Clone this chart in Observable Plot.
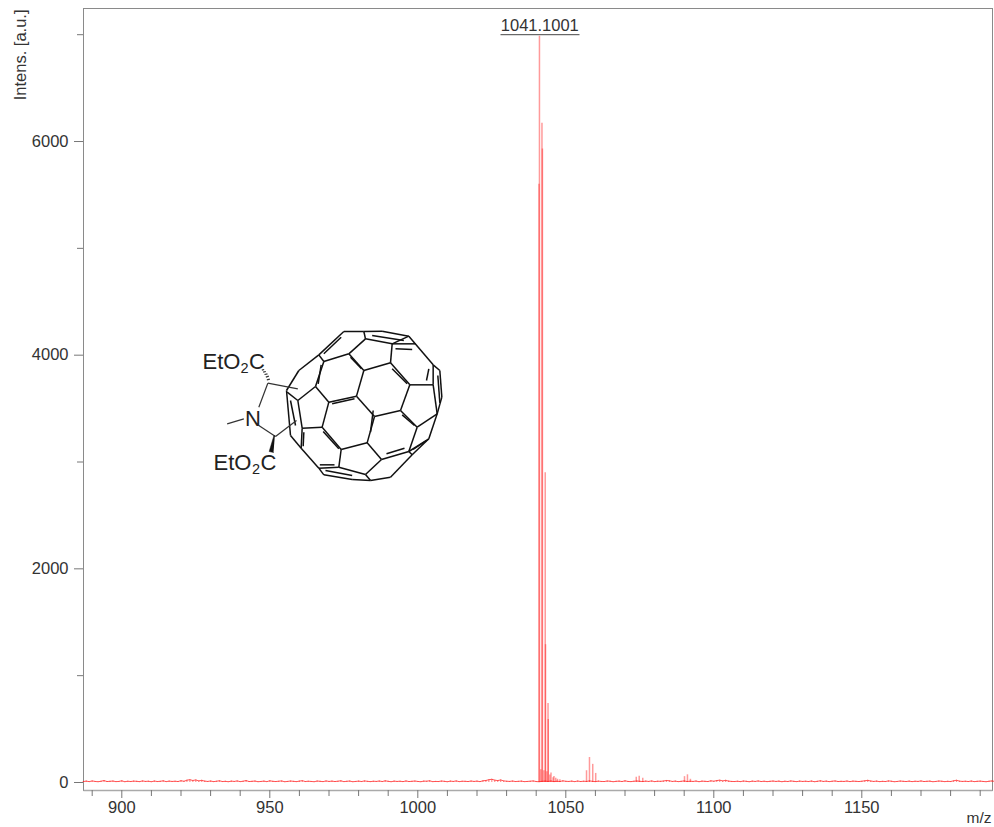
<!DOCTYPE html>
<html><head><meta charset="utf-8">
<style>html,body{margin:0;padding:0;background:#fff}svg{display:block}</style>
<script src="https://cdn.jsdelivr.net/npm/d3@7"></script>
<script src="https://cdn.jsdelivr.net/npm/@observablehq/plot@0.6"></script>
</head><body><div id="chart"></div>
<script>
// Spectrum peaks
const peakMz = [1040.95,1041.1,1041.55,1041.95,1042.1,1042.6,1043.05,1043.15,1043.6,1044.0,1044.08,1044.6,1045.0,1045.7,1046.0,1046.6,1047.2,1048.0,
  1057.0,1058.0,1059.1,1060.1,1073.8,1074.8,1076.0,1090.1,1091.1,1092.1];
const peakI = [5600,6985,120,6170,5930,110,2900,1290,100,740,590,70,90,45,55,40,30,25,
  110,234,170,85,50,58,40,55,72,30];
// Baseline noise, one reading per m/z starting at 887
const noiseStart = 887;
const noise = [9,13,8,15,10,7,12,18,9,11,14,8,10,16,7,12,9,13,11,8,
 15,10,12,7,14,9,11,16,8,13,10,12,9,17,11,22,26,19,24,15,
 20,13,10,14,8,12,16,9,11,7,13,10,15,8,12,18,9,11,14,7,
 10,13,8,16,11,9,12,15,7,10,14,11,8,13,17,9,12,10,7,14,
 11,8,15,10,13,9,12,16,8,11,14,7,10,13,9,15,11,8,12,10,
 14,9,16,11,7,13,10,12,8,15,9,11,14,10,7,13,12,16,8,10,
 9,14,11,7,13,10,15,8,12,11,9,14,10,13,8,16,19,26,30,22,
 18,24,15,12,10,14,9,11,13,8,10,12,15,9,7,11,13,10,14,8,
 12,9,16,11,10,13,8,14,9,12,10,15,11,8,13,10,9,14,12,7,
 11,13,9,16,10,8,12,14,11,9,13,10,15,8,12,11,14,19,16,10,
 13,8,11,15,9,12,10,14,7,13,11,9,16,12,18,22,15,20,13,10,
 9,12,8,14,11,7,13,10,15,9,12,8,11,14,10,13,7,12,9,15,
 11,8,13,10,12,9,14,7,11,16,10,13,8,12,15,9,11,10,14,8,
 13,11,9,12,16,20,14,10,13,8,11,9,15,12,7,10,14,11,9,13,
 8,12,10,15,9,11,13,7,10,14,12,8,11,9,16,21,13,10,12,9,
 14,8,11,13,10,7,12,15,9,11,8,13,10,14,9,12,8,11,13,10];
const noiseRows = noise.map((v,i)=>({mz:noiseStart+i,v}));
const peakRows = peakMz.map((mz,i)=>({mz,v:peakI[i]}));

const majorX = [900,950,1000,1050,1100,1150];
const minorX = [890,910,920,930,940,960,970,980,990,1010,1020,1030,1040,1060,1070,1080,1090,1110,1120,1130,1140,1160,1170,1180,1190];
const majorY = [0,2000,4000,6000];
const minorY = [1000,3000,5000,7000];
const peakLabel = "1041.1001";
const yTitle = "Intens. [a.u.]";
const xTitle = "m/z";

// Inset structure: picture positions converted to the chart's own units
const mzAt = p => 900+(p-121.3)/2.96;
const iAt = p => (782-p)/0.10683;
const cageX = 280, cageY = 325, ringX = 190, ringY = 320;
const cage = [ // C60 cage bonds
 [190,18,250,18],[250,18,305,17],[305,17,385,32],[385,32,458,118],[458,118,478,135],[478,135,484,215],[484,215,470,265],
 [470,265,445,340],[445,340,395,388],[395,388,330,455],[330,455,270,465],[270,465,215,462],[215,462,130,448],[130,448,115,428],
 [115,428,62,368],[62,368,30,330],[30,330,18,195],[18,195,55,135],[55,135,115,88],[115,88,190,18],
 [250,18,255,40],[255,40,205,85],[205,85,130,108],[130,108,115,88],[255,40,335,55],[335,55,385,32],[335,55,405,55],
 [335,55,330,112],[330,112,250,135],[250,135,205,85],[330,112,388,178],[388,178,458,178],[458,118,458,178],[458,178,470,265],
 [388,178,360,255],[360,255,282,273],[282,273,228,212],[228,212,250,135],[228,212,145,230],[145,230,105,183],[105,183,130,108],
 [105,183,52,225],[52,225,20,200],[52,225,65,308],[65,308,125,305],[125,305,145,230],[125,305,182,372],[182,372,260,352],
 [260,352,282,273],[260,352,303,402],[303,402,385,378],[385,378,410,305],[410,305,360,255],[410,305,470,265],[385,378,445,340],
 [385,378,395,388],[182,372,175,425],[175,425,115,428],[65,308,62,368],[175,425,255,447],[255,447,303,402],[255,447,270,465]
];
const cageDouble = [ // inner strokes of double bonds
 [130,85,182,35],[275,30,370,45],[345,70,395,72],[445,130,438,165],[472,150,478,232],[210,95,243,130],[335,130,380,175],
 [122,118,113,175],[155,235,222,220],[278,255,270,320],[365,268,402,300],[318,385,372,368],[398,372,438,345],[128,318,175,370],
 [70,320,68,362],[118,418,162,418],[135,435,215,450],[30,225,45,300]
];
const ring = [ // pyrrolidine bonds
 [232,188,322,205],[232,188,205,260],[110,310,160,295],[205,315,255,348],[255,348,318,300]
];
const hash = [[229,178,238,176],[226,170,235,167],[222,162,231,160],[218,155,226,153],[214,149,221,147]];
const wedge = [[253,346],[250,346],[236,393],[249,396]];
const toBond = (r,ox,oy)=>({x1:mzAt(ox+r[0]/3),y1:iAt(oy+r[1]/3),x2:mzAt(ox+r[2]/3),y2:iAt(oy+r[3]/3)});
const bonds = [...cage.map(r=>toBond(r,cageX,cageY)),...cageDouble.map(r=>toBond(r,cageX,cageY))];
const ringBonds = [...ring,...hash].map(r=>toBond(r,ringX,ringY));
const wedgePts = wedge.map(p=>({x:mzAt(ringX+p[0]/3),y:iAt(ringY+p[1]/3)}));
const chemText = [
 {t:"EtO",px:202,py:361.5,s:22},{t:"2",px:240,py:368,s:14.5},{t:"C",px:248.5,py:361.5,s:22},
 {t:"EtO",px:213,py:462.5,s:22},{t:"2",px:251.5,py:469,s:14.5},{t:"C",px:260,py:462.5,s:22},
 {t:"N",px:244.5,py:418,s:22}
].map(d=>({...d,x:mzAt(d.px),y:iAt(d.py)}));

const txt="#333", axisCol="#777";
const chart = Plot.plot({
  width:994,height:827,marginLeft:83,marginRight:2,marginTop:8,marginBottom:37,
  style:{fontFamily:"'Liberation Sans',Arial,sans-serif",background:"#fff",color:txt},
  x:{domain:[mzAt(83),mzAt(992)]},
  y:{domain:[iAt(790),iAt(8)]},
  marks:[
    Plot.frame({stroke:"#8a8a8a",strokeWidth:1}),
    Plot.link([{x:mzAt(83)}],{x1:"x",x2:mzAt(992),y1:iAt(790),y2:iAt(790),stroke:"#aaa",strokeWidth:1.5}),
    Plot.axisX({ticks:minorX,tickFormat:()=>"",tickSize:6,stroke:axisCol,label:null}),
    Plot.axisX({ticks:majorX,tickSize:8,tickPadding:3,stroke:axisCol,fontSize:16.5,fill:txt,label:null,tickFormat:d=>String(d)}),
    Plot.axisY({ticks:minorY,tickFormat:()=>"",tickSize:6,stroke:axisCol,label:null}),
    Plot.axisY({ticks:majorY,tickSize:9,tickPadding:6,stroke:axisCol,fontSize:16.5,fill:txt,label:null,tickFormat:d=>String(d)}),
    Plot.ruleX(noiseRows,{x:"mz",y1:0,y2:"v",stroke:"#ff2020",strokeWidth:1.2,strokeOpacity:.5}),
    Plot.line(noiseRows,{x:"mz",y:"v",stroke:"#ff2020",strokeWidth:1,strokeOpacity:.75}),
    Plot.ruleX(peakRows,{x:"mz",y1:0,y2:"v",stroke:"#ff2020",strokeWidth:1.5,strokeOpacity:.45}),
    Plot.text([peakLabel],{x:mzAt(539.3),y:7000,text:d=>d,dy:-9,fontSize:16.5,fill:txt}),
    Plot.link([peakLabel],{x1:mzAt(500),x2:mzAt(579),y1:7000,y2:7000,stroke:"#444",strokeWidth:1}),
    Plot.text([yTitle],{frameAnchor:"top-left",text:d=>d,dx:-69,dy:1,rotate:-90,textAnchor:"end",fontSize:16.5,fill:txt}),
    Plot.text([xTitle],{x:mzAt(991),y:iAt(818),text:d=>d,textAnchor:"end",fontSize:15.5,fill:txt,clip:false}),
    Plot.link(bonds,{x1:"x1",y1:"y1",x2:"x2",y2:"y2",stroke:"#111",strokeWidth:1.5}),
    Plot.link(ringBonds,{x1:"x1",y1:"y1",x2:"x2",y2:"y2",stroke:"#333",strokeWidth:1.2}),
    Plot.line(wedgePts,{x:"x",y:"y",fill:"#111",stroke:"#111",strokeWidth:.5}),
    Plot.text(chemText,{x:"x",y:"y",text:"t",fontSize:"s",textAnchor:"start",fill:"#222"})
  ]
});
document.getElementById("chart").append(chart);
</script></body></html>
